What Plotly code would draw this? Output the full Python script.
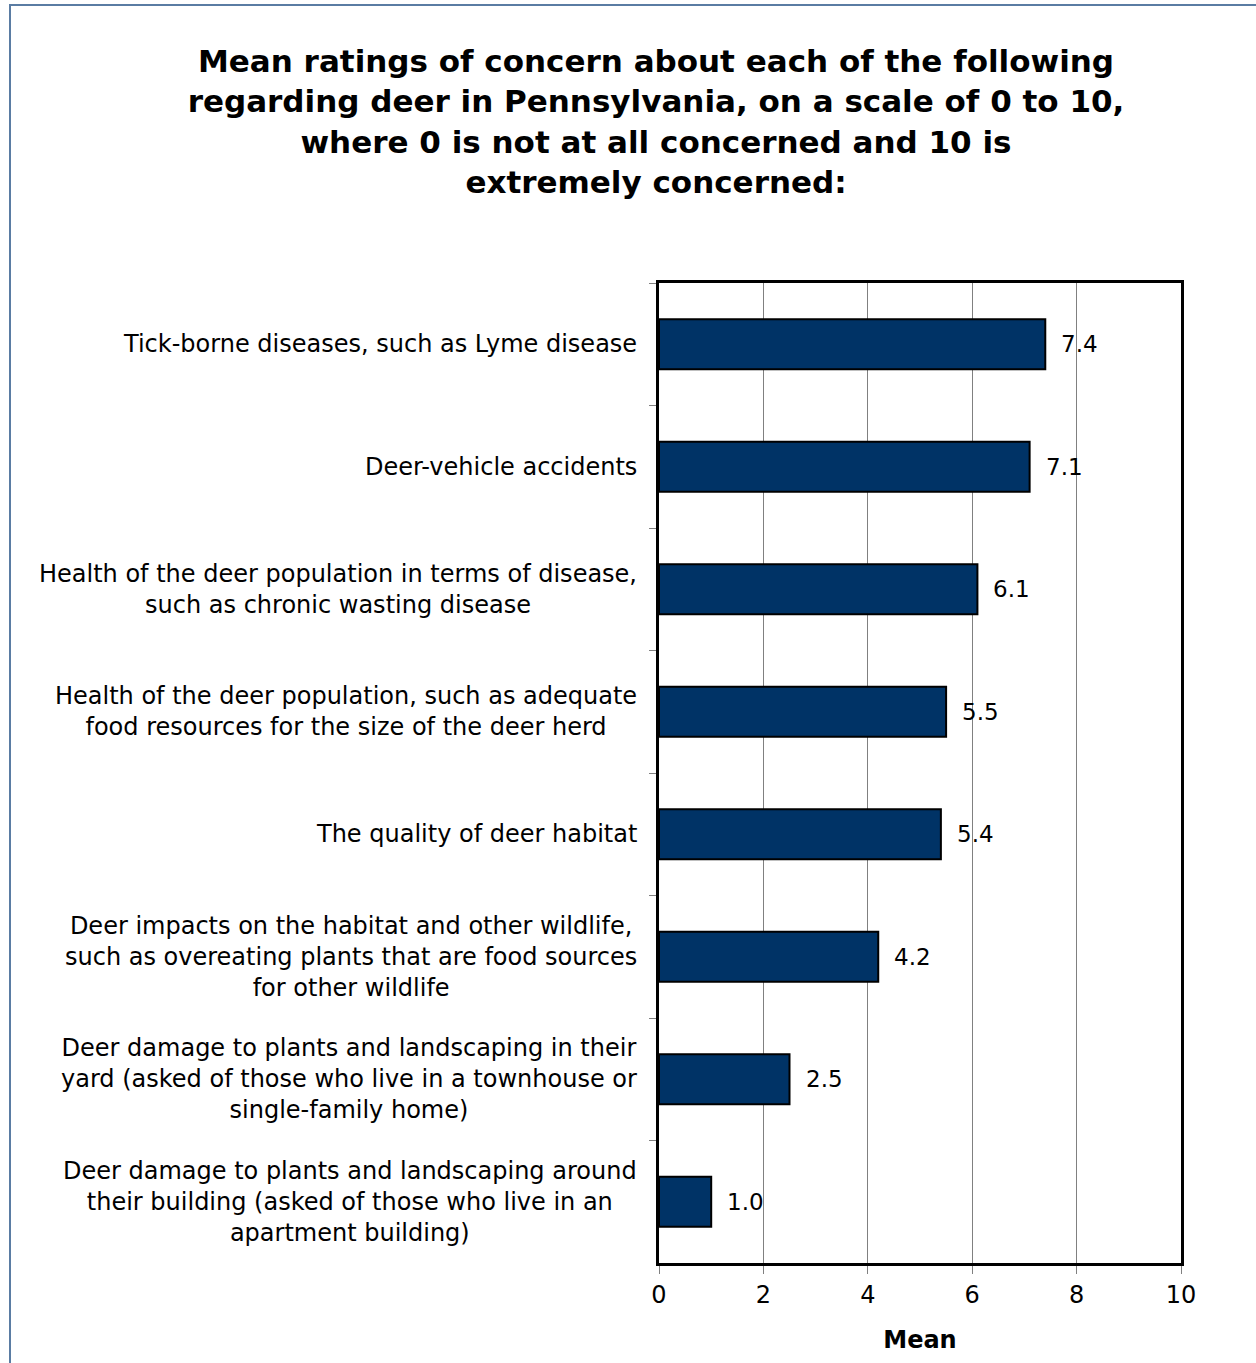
import plotly.graph_objects as go

categories = [
    "Tick-borne diseases, such as Lyme disease",
    "Deer-vehicle accidents",
    "Health of the deer population in terms of disease,<br>such as chronic wasting disease",
    "Health of the deer population, such as adequate<br>food resources for the size of the deer herd",
    "The quality of deer habitat",
    "Deer impacts on the habitat and other wildlife,<br>such as overeating plants that are food sources<br>for other wildlife",
    "Deer damage to plants and landscaping in their<br>yard (asked of those who live in a townhouse or<br>single-family home)",
    "Deer damage to plants and landscaping around<br>their building (asked of those who live in an<br>apartment building)",
]
values = [7.4, 7.1, 6.1, 5.5, 5.4, 4.2, 2.5, 1.0]
x_ticks = [0, 2, 4, 6, 8, 10]
title_text = ("Mean ratings of concern about each of the following<br>regarding deer in Pennsylvania, on a scale of 0 to 10,"
              "<br>where 0 is not at all concerned and 10 is<br>extremely concerned:")

W, H = 1256, 1363
L, R, T, B = 659, 75, 283, 100
FONT = "DejaVu Sans, Liberation Sans, Arial, sans-serif"

fig = go.Figure()
fig.add_trace(go.Bar(
    y=categories, x=values, orientation="h",
    marker=dict(color="#003366", line=dict(color="#000000", width=2)),
    width=0.41, showlegend=False, hoverinfo="x+y",
))

annotations = []
for c, v in zip(categories, values):
    annotations.append(dict(x=v, y=c, xref="x", yref="y", text=f"{v:.1f}",
                            showarrow=False, xanchor="left", xshift=14,
                            font=dict(size=23, color="#000000", family=FONT)))
    annotations.append(dict(x=0, y=c, xref="paper", yref="y", text=c,
                            showarrow=False, xanchor="right", xshift=-20, align="center",
                            font=dict(size=24, color="#000000", family=FONT)))

pw = W - L - R
ph = H - T - B
def px_to_paper_x(px):
    return (px - L) / pw
def px_to_paper_y(py):
    return (H - B - py) / ph

fig.add_shape(type="rect", xref="paper", yref="paper",
              x0=px_to_paper_x(10), x1=px_to_paper_x(1300),
              y0=px_to_paper_y(1400), y1=px_to_paper_y(5),
              line=dict(color="#5a7ca3", width=2), fillcolor="rgba(0,0,0,0)", layer="below")

fig.update_layout(
    width=W, height=H,
    margin=dict(l=L, r=R, t=T, b=B, autoexpand=False),
    paper_bgcolor="white", plot_bgcolor="white",
    font=dict(family=FONT, color="#000000"),
    title=dict(text=f"<b>{title_text}</b>", x=656 / W, xanchor="center",
               y=1 - 72 / H, yanchor="top", yref="container",
               font=dict(size=31, family=FONT, color="#000000")),
    annotations=annotations,
)
fig.update_xaxes(
    range=[0, 10], tickvals=x_ticks, ticktext=[str(t) for t in x_ticks],
    showgrid=True, gridcolor="#808080", gridwidth=1,
    showline=True, linecolor="#000000", linewidth=3, mirror=True,
    ticks="outside", ticklen=8, tickcolor="#808080", tickwidth=1,
    tickfont=dict(size=24, family=FONT, color="#000000"),
    title=dict(text="<b>Mean</b>", font=dict(size=24, family=FONT, color="#000000"), standoff=24),
    zeroline=False, fixedrange=True,
)
fig.update_yaxes(
    categoryorder="array", categoryarray=categories, autorange="reversed",
    showline=True, linecolor="#000000", linewidth=3, mirror=True,
    ticks="outside", ticklen=7, tickcolor="#808080", tickwidth=1,
    tickson="boundaries", showticklabels=False, showgrid=False, fixedrange=True,
)

fig.write_html("out.html", config={"displayModeBar": False},
               post_script="document.body.style.margin='0';")
